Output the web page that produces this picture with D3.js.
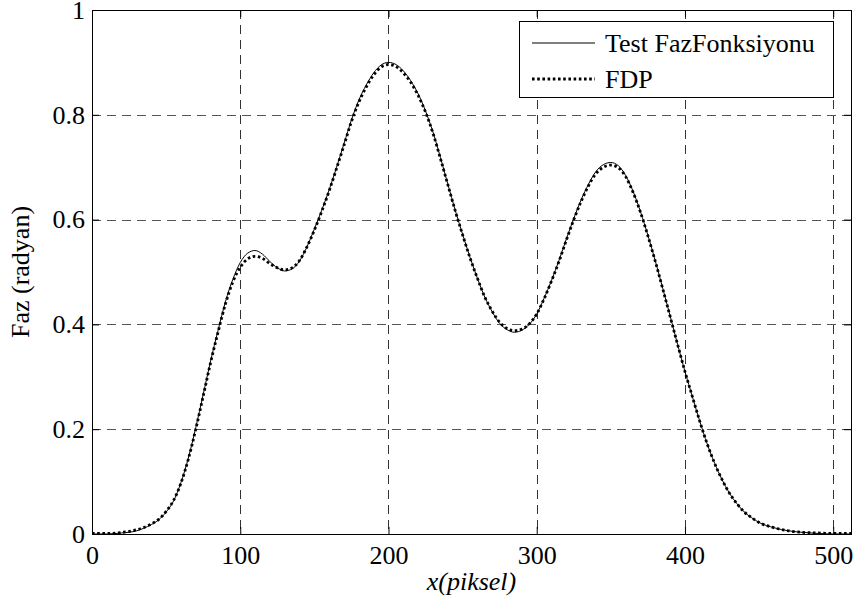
<!DOCTYPE html>
<html>
<head>
<meta charset="utf-8">
<script src="https://cdn.jsdelivr.net/npm/d3@7"></script>
<style>
  html, body { margin: 0; padding: 0; background: #fff; }
  svg { display: block; }
  svg text { font-family: "Liberation Serif", Tinos, "Times New Roman", Times, "DejaVu Serif", serif !important; fill: #000; }
</style>
</head>
<body>
<svg id="chart" width="859" height="607"></svg>
<script>
// ---- data ----
const xValues = [0,10,20,30,40,45,50,55,60,65,70,75,80,85,90,95,100,105,110,115,120,125,130,135,140,145,150,155,160,165,170,175,180,185,190,195,200,205,210,215,220,225,230,235,240,245,250,255,260,265,270,275,280,285,290,295,300,305,310,315,320,325,330,335,340,345,350,355,360,365,370,375,380,385,390,395,400,405,410,415,420,425,430,435,440,445,450,460,470,480,490,500,512];
const testPhase = [0.000,0.000,0.002,0.006,0.018,0.027,0.042,0.063,0.098,0.145,0.203,0.266,0.330,0.388,0.443,0.486,0.518,0.536,0.541,0.534,0.520,0.508,0.502,0.506,0.521,0.548,0.582,0.618,0.657,0.700,0.745,0.790,0.828,0.857,0.880,0.895,0.900,0.896,0.884,0.865,0.840,0.807,0.767,0.719,0.668,0.618,0.572,0.528,0.488,0.452,0.424,0.402,0.390,0.385,0.389,0.400,0.420,0.450,0.484,0.522,0.563,0.602,0.638,0.668,0.692,0.705,0.709,0.703,0.684,0.654,0.615,0.570,0.521,0.469,0.416,0.362,0.310,0.262,0.215,0.172,0.135,0.104,0.078,0.058,0.042,0.031,0.022,0.012,0.006,0.003,0.001,0.000,0.000];
const fdpPhase = [0.001,0.001,0.003,0.008,0.019,0.028,0.043,0.064,0.097,0.143,0.200,0.263,0.327,0.385,0.439,0.481,0.509,0.525,0.530,0.526,0.516,0.508,0.504,0.508,0.522,0.548,0.580,0.616,0.655,0.698,0.742,0.787,0.824,0.853,0.876,0.891,0.896,0.892,0.880,0.862,0.837,0.805,0.765,0.717,0.667,0.617,0.571,0.527,0.488,0.452,0.425,0.404,0.392,0.388,0.391,0.401,0.420,0.449,0.483,0.520,0.561,0.600,0.635,0.665,0.688,0.700,0.704,0.699,0.682,0.652,0.614,0.569,0.520,0.468,0.415,0.362,0.310,0.262,0.215,0.172,0.135,0.104,0.078,0.058,0.042,0.031,0.022,0.012,0.006,0.003,0.002,0.001,0.001];
const xTicks = [0,100,200,300,400,500];
const yTicks = [0,0.2,0.4,0.6,0.8,1];
const seriesNames = ["Test FazFonksiyonu", "FDP"];
const xLabel = "x(piksel)";
const yLabel = "Faz (radyan)";

// ---- layout ----
const FONT = "'Liberation Serif', Tinos, 'Times New Roman', Times, 'DejaVu Serif', serif";
const svg = d3.select("#chart");
const L = 92, R = 851, T = 10, B = 534;
const x = d3.scaleLinear().domain([0, 512]).range([L, R]);
const y = d3.scaleLinear().domain([0, 1]).range([B, T]);
const FS = 26;

// grid
const grid = svg.append("g");
grid.selectAll("line.vg").data(xTicks.filter(d => d > 0)).enter().append("line")
  .attr("x1", d => Math.round(x(d)) + 0.5).attr("x2", d => Math.round(x(d)) + 0.5)
  .attr("y1", T).attr("y2", B)
  .attr("stroke", "#333").attr("stroke-width", 1).attr("stroke-dasharray", "9,6");
grid.selectAll("line.hg").data(yTicks.filter(d => d > 0 && d < 1)).enter().append("line")
  .attr("y1", d => Math.round(y(d)) + 0.5).attr("y2", d => Math.round(y(d)) + 0.5)
  .attr("x1", L).attr("x2", R)
  .attr("stroke", "#555").attr("stroke-width", 1).attr("stroke-dasharray", "9,6");

// axes (ticks inside)
const tickLen = 7;
const xAxisB = d3.axisBottom(x).tickValues(xTicks).tickSize(-tickLen).tickPadding(12).tickFormat(d3.format("d"));
const xAxisT = d3.axisTop(x).tickValues(xTicks).tickSize(-tickLen).tickFormat("");
const yAxisL = d3.axisLeft(y).tickValues(yTicks).tickSize(-tickLen).tickPadding(7).tickFormat(d => d === 0 || d === 1 ? d3.format("d")(d) : d3.format(".1f")(d));
const yAxisR = d3.axisRight(y).tickValues(yTicks).tickSize(-tickLen).tickFormat("");

function styleAxis(g) {
  g.attr("font-family", FONT).attr("font-size", FS);
  g.select(".domain").remove();
  g.selectAll(".tick line").attr("stroke", "#000").attr("stroke-width", 1);
  g.selectAll(".tick text").attr("font-size", FS).attr("fill", "#000");
}
svg.append("g").attr("transform", `translate(0,${B})`).call(xAxisB).call(styleAxis);
svg.append("g").attr("transform", `translate(0,${T})`).call(xAxisT).call(styleAxis);
svg.append("g").attr("transform", `translate(${L},0)`).call(yAxisL).call(styleAxis);
svg.append("g").attr("transform", `translate(${R},0)`).call(yAxisR).call(styleAxis);

// lines
const line = d3.line().x((d, i) => x(xValues[i])).y(d => y(d)).curve(d3.curveMonotoneX);
svg.append("path").datum(testPhase).attr("d", line)
  .attr("fill", "none").attr("stroke", "#000").attr("stroke-width", 1);
svg.append("path").datum(fdpPhase).attr("d", line)
  .attr("fill", "none").attr("stroke", "#000").attr("stroke-width", 2.8)
  .attr("stroke-dasharray", "2.6,2.6");

// frame
svg.append("rect").attr("x", L + 0.5).attr("y", T + 0.5).attr("width", R - L).attr("height", B - T)
  .attr("fill", "none").attr("stroke", "#000").attr("stroke-width", 1);

// axis labels
svg.append("text").attr("x", (L + R) / 2).attr("y", 590).attr("text-anchor", "middle")
  .attr("font-family", FONT).attr("font-size", FS).attr("font-style", "italic").text(xLabel);
svg.append("text").attr("transform", `translate(29,${(T + B) / 2}) rotate(-90)`)
  .attr("font-family", FONT).attr("text-anchor", "middle").attr("font-size", FS).text(yLabel);

// legend
const lg = svg.append("g").attr("font-family", FONT);
lg.append("rect").attr("x", 519.5).attr("y", 21.5).attr("width", 314).attr("height", 76)
  .attr("fill", "#fff").attr("stroke", "#000").attr("stroke-width", 1);
const rows = [43, 79];
lg.append("line").attr("x1", 532).attr("x2", 595).attr("y1", rows[0]).attr("y2", rows[0])
  .attr("stroke", "#000").attr("stroke-width", 1);
lg.append("line").attr("x1", 532).attr("x2", 595).attr("y1", rows[1]).attr("y2", rows[1])
  .attr("stroke", "#000").attr("stroke-width", 2.8).attr("stroke-dasharray", "2.6,2.6");
lg.selectAll("text.lt").data(seriesNames).enter().append("text")
  .attr("x", 605).attr("y", (d, i) => rows[i] + 9).attr("font-size", FS).text(d => d);
</script>
</body>
</html>
